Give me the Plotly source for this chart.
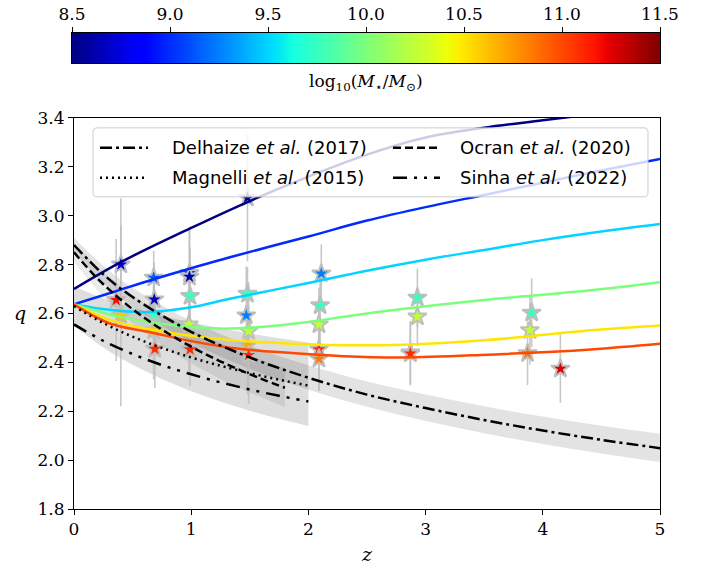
import numpy as np
import plotly.graph_objects as go

# ---------------------------------------------------------------------------
# Stacked-sample measurements: redshift, q, error on q, log stellar mass
# ---------------------------------------------------------------------------
STAR_Z = [0.40, 0.36, 0.40, 0.68, 0.685, 0.68, 0.68, 0.69,
          0.985, 0.985, 0.99, 0.98, 0.99,
          1.48, 1.48, 1.47, 1.49, 1.48, 1.49,
          2.11, 2.10, 2.09, 2.09, 2.09,
          2.93, 2.93, 2.87, 2.87,
          3.905, 3.89, 3.87, 4.15]
STAR_Q = [2.80, 2.655, 2.59, 2.746, 2.657, 2.596, 2.53, 2.455,
          2.765, 2.75, 2.671, 2.555, 2.453,
          3.073, 2.68, 2.592, 2.528, 2.47, 2.43,
          2.763, 2.633, 2.555, 2.453, 2.415,
          2.664, 2.587, 2.44, 2.436,
          2.603, 2.531, 2.437, 2.374]
STAR_ERR = [0.27, 0.25, 0.37, 0.11, 0.15, 0.15, 0.20, 0.16,
            0.19, 0.20, 0.20, 0.20, 0.15,
            0.26, 0.11, 0.20, 0.20, 0.20, 0.20,
            0.12, 0.15, 0.15, 0.17, 0.13,
            0.12, 0.12, 0.13, 0.13,
            0.14, 0.14, 0.13, 0.14]
STAR_MASS = [8.7, 11.2, 10.6, 9.15, 8.65, 9.75, 10.6, 11.1,
             9.1, 8.6, 9.75, 10.25, 11.1,
             8.6, 9.75, 9.25, 10.25, 10.7, 11.1,
             9.25, 9.75, 10.25, 11.1, 10.85,
             9.75, 10.25, 10.85, 11.1,
             9.75, 10.25, 10.85, 11.25]

# ---------------------------------------------------------------------------
# Model q(z) tracks at fixed stellar mass
# ---------------------------------------------------------------------------
TRACK_MASS = [8.5, 9.0, 9.5, 10.0, 10.5, 11.0]
TRACK_Z = [
    [0, 0.4, 1.0, 1.5, 2.0, 2.5, 3.0, 3.5, 4.0, 4.5, 5.0],
    [0, 0.35, 0.68, 1.0, 1.33, 2.0, 2.5, 3.0, 3.5, 4.0, 4.5, 5.0],
    [0, 0.3, 0.6, 1.0, 1.33, 2.0, 2.5, 3.0, 3.5, 4.0, 4.5, 5.0],
    [0, 0.2, 0.4, 0.8, 1.25, 1.6, 2.0, 2.35, 2.78, 3.5, 4.41, 5.0],
    [0, 0.3, 0.7, 1.2, 1.7, 2.3, 2.8, 3.5, 4.41, 5.0],
    [0, 0.3, 0.65, 1.0, 1.33, 1.8, 2.3, 2.8, 3.47, 4.41, 5.0],
]
TRACK_Q = [
    [2.70, 2.81, 2.95, 3.06, 3.16, 3.25, 3.32, 3.36, 3.39, 3.42, 3.45],
    [2.637, 2.69, 2.74, 2.785, 2.83, 2.915, 2.98, 3.035, 3.085, 3.135, 3.185, 3.232],
    [2.637, 2.615, 2.605, 2.625, 2.66, 2.725, 2.775, 2.82, 2.86, 2.90, 2.935, 2.966],
    [2.637, 2.61, 2.585, 2.555, 2.538, 2.545, 2.565, 2.59, 2.617, 2.655, 2.695, 2.728],
    [2.637, 2.575, 2.53, 2.497, 2.48, 2.47, 2.472, 2.49, 2.531, 2.551],
    [2.637, 2.56, 2.523, 2.487, 2.46, 2.44, 2.425, 2.42, 2.43, 2.453, 2.476],
]

# ---------------------------------------------------------------------------
# Literature relations (central value and shaded range)
# ---------------------------------------------------------------------------
DELHAIZE_Z = [0, 0.25, 0.5, 1.0, 1.5, 2.0, 2.5, 3.0, 3.5, 4.0, 4.5, 5.0]
DELHAIZE_Q = [2.88, 2.760, 2.667, 2.525, 2.420, 2.337, 2.268, 2.213, 2.164, 2.121, 2.083, 2.049]
DELHAIZE_HI = [2.91, 2.795, 2.705, 2.569, 2.468, 2.388, 2.322, 2.268, 2.220, 2.178, 2.141, 2.108]
DELHAIZE_LO = [2.85, 2.726, 2.628, 2.481, 2.373, 2.288, 2.218, 2.160, 2.110, 2.066, 2.027, 1.992]

MAGNELLI_Z = [0, 0.25, 0.5, 0.75, 1.0, 1.25, 1.5, 1.75, 2.0]
MAGNELLI_Q = [2.63, 2.561, 2.505, 2.459, 2.420, 2.386, 2.356, 2.329, 2.305]
MAGNELLI_HI = [2.71, 2.662, 2.624, 2.591, 2.564, 2.540, 2.518, 2.499, 2.482]
MAGNELLI_LO = [2.55, 2.461, 2.390, 2.332, 2.282, 2.240, 2.202, 2.169, 2.139]

OCRAN_Z = [0, 0.2, 0.4, 0.6, 0.8, 1.0, 1.2, 1.4, 1.6, 1.8]
OCRAN_Q = [2.85, 2.743, 2.656, 2.582, 2.519, 2.464, 2.415, 2.372, 2.332, 2.296]
OCRAN_HI = [2.89, 2.792, 2.711, 2.643, 2.585, 2.533, 2.488, 2.447, 2.410, 2.376]
OCRAN_LO = [2.81, 2.695, 2.601, 2.522, 2.455, 2.396, 2.344, 2.297, 2.256, 2.217]

SINHA_Z = [0, 0.25, 0.5, 0.75, 1.0, 1.25, 1.5, 1.75, 2.0]
SINHA_Q = [2.555, 2.488, 2.434, 2.389, 2.351, 2.318, 2.289, 2.263, 2.240]

X_TICKS = [0, 1, 2, 3, 4, 5]
Y_TICKS = [1.8, 2.0, 2.2, 2.4, 2.6, 2.8, 3.0, 3.2, 3.4]
CB_TICKS = [8.5, 9.0, 9.5, 10.0, 10.5, 11.0, 11.5]
MASS_MIN, MASS_MAX = 8.5, 11.5

# ---------------------------------------------------------------------------
# matplotlib-style "jet" colour map
# ---------------------------------------------------------------------------
JET_R = [(0.0, 0.0), (0.35, 0.0), (0.66, 1.0), (0.89, 1.0), (1.0, 0.5)]
JET_G = [(0.0, 0.0), (0.125, 0.0), (0.375, 1.0), (0.64, 1.0), (0.91, 0.0), (1.0, 0.0)]
JET_B = [(0.0, 0.5), (0.11, 1.0), (0.34, 1.0), (0.65, 0.0), (1.0, 0.0)]


def _chan(pts, f):
    xs, ys = zip(*pts)
    return float(np.interp(f, xs, ys))


def jet(f):
    return "rgb(%d,%d,%d)" % tuple(int(round(255 * _chan(c, f))) for c in (JET_R, JET_G, JET_B))


JET_STOPS = sorted({p[0] for c in (JET_R, JET_G, JET_B) for p in c})
JET = [[s, jet(s)] for s in JET_STOPS]


def mass_colour(m):
    return jet((m - MASS_MIN) / (MASS_MAX - MASS_MIN))


SERIF = "DejaVu Serif"
SANS = "DejaVu Sans"

# page geometry (pixels)
W, H = 715, 573
M_L, M_R, M_T, M_B = 72, 55, 33, 63.5
PLOT_LEFT, PLOT_TOP = 74, 118
BAR_BOTTOM = 63
paper_w = W - M_L - M_R
paper_h = H - M_T - M_B
plot_x_domain = [(PLOT_LEFT - M_L) / paper_w, 1.0]
plot_y_domain = [0.0, (H - M_B - PLOT_TOP) / paper_h]
bar_y_domain = [(H - M_B - BAR_BOTTOM) / paper_h, 1.0]

fig = go.Figure()


def band(z, lo, hi, colour):
    fig.add_trace(go.Scatter(x=z, y=lo, mode="lines", line=dict(width=0, shape="spline"),
                             showlegend=False, hoverinfo="skip"))
    fig.add_trace(go.Scatter(x=z, y=hi, mode="lines", line=dict(width=0, shape="spline"),
                             fill="tonexty", fillcolor=colour, showlegend=False, hoverinfo="skip"))


band(DELHAIZE_Z, DELHAIZE_LO, DELHAIZE_HI, "rgba(0,0,0,0.11)")
band(MAGNELLI_Z, MAGNELLI_LO, MAGNELLI_HI, "rgba(0,0,0,0.13)")
band(OCRAN_Z, OCRAN_LO, OCRAN_HI, "rgba(0,0,0,0.08)")

# measured points with error bars, coloured by stellar mass
fig.add_trace(go.Scatter(
    x=STAR_Z, y=STAR_Q, mode="markers", showlegend=False,
    error_y=dict(type="data", array=STAR_ERR, visible=True, color="rgba(190,190,190,0.85)",
                 thickness=1.6, width=0),
    marker=dict(symbol="star", size=14, color=STAR_MASS, colorscale=JET,
                cmin=MASS_MIN, cmax=MASS_MAX, showscale=False,
                line=dict(color="rgb(190,190,190)", width=2))))

# model tracks
for m, zs, qs in zip(TRACK_MASS, TRACK_Z, TRACK_Q):
    fig.add_trace(go.Scatter(x=zs, y=qs, mode="lines", showlegend=False,
                             line=dict(color=mass_colour(m), width=2.5, shape="spline")))

DASH_DELHAIZE = "12px,4px,3px,4px"
DASH_MAGNELLI = "2px,4px"
DASH_OCRAN = "8px,4px"
DASH_SINHA = "14px,7px,3px,7px,3px,7px"

for zs, qs, dash in [(DELHAIZE_Z, DELHAIZE_Q, DASH_DELHAIZE),
                     (MAGNELLI_Z, MAGNELLI_Q, DASH_MAGNELLI),
                     (OCRAN_Z, OCRAN_Q, DASH_OCRAN),
                     (SINHA_Z, SINHA_Q, DASH_SINHA)]:
    fig.add_trace(go.Scatter(x=zs, y=qs, mode="lines", showlegend=False,
                             line=dict(color="black", width=2.5, dash=dash, shape="spline")))

# ---------------------------------------------------------------------------
# Horizontal colour bar: a one-row heatmap spanning the mass range
# ---------------------------------------------------------------------------
n_cells = 300
cb_edges = np.linspace(MASS_MIN, MASS_MAX, n_cells + 1)
cb_centres = 0.5 * (cb_edges[1:] + cb_edges[:-1])
fig.add_trace(go.Heatmap(x=cb_centres, y=[0], z=[cb_centres], colorscale=JET,
                         zmin=MASS_MIN, zmax=MASS_MAX, showscale=False, hoverinfo="skip",
                         xaxis="x2", yaxis="y2"))

# ---------------------------------------------------------------------------
# Legend box drawn relative to the plotting area
# ---------------------------------------------------------------------------
x0, x1, y0, y1 = 0.0324, 0.9795, 0.7982, 0.9745
rx, ry = 0.007, 0.010
path = (f"M{x0+rx},{y0} L{x1-rx},{y0} Q{x1},{y0} {x1},{y0+ry} L{x1},{y1-ry} "
        f"Q{x1},{y1} {x1-rx},{y1} L{x0+rx},{y1} Q{x0},{y1} {x0},{y1-ry} "
        f"L{x0},{y0+ry} Q{x0},{y0} {x0+rx},{y0} Z")
fig.add_shape(type="path", path=path, xref="x domain", yref="y domain", layer="above",
              fillcolor="rgba(255,255,255,0.8)", line=dict(color="rgb(204,204,204)", width=1))

LEGEND_ROWS = [
    ("Delhaize <i>et al.</i> (2017)", DASH_DELHAIZE, 0.0444, 0.1263, 0.1638, 0.9234),
    ("Magnelli <i>et al.</i> (2015)", DASH_MAGNELLI, 0.0444, 0.1263, 0.1638, 0.8467),
    ("Ocran <i>et al.</i> (2020)", DASH_OCRAN, 0.5444, 0.6246, 0.6553, 0.9234),
    ("Sinha <i>et al.</i> (2022)", DASH_SINHA, 0.5444, 0.6246, 0.6553, 0.8467),
]
for label, dash, lx0, lx1, tx, ty in LEGEND_ROWS:
    fig.add_shape(type="line", xref="x domain", yref="y domain", x0=lx0, x1=lx1, y0=ty, y1=ty,
                  layer="above", line=dict(color="black", width=2.5, dash=dash))
    fig.add_annotation(text=label, xref="x domain", yref="y domain", x=tx, y=ty,
                       xanchor="left", yanchor="middle", showarrow=False,
                       font=dict(family=SANS, size=18, color="black"))

# axis titles
fig.add_annotation(text="<i>q</i>", xref="x domain", yref="y domain", x=-0.092, y=0.502,
                   showarrow=False, xanchor="center", yanchor="middle",
                   font=dict(family=SERIF, size=19, color="black"))
fig.add_annotation(text="<i>z</i>", xref="x domain", yref="y domain", x=0.5, y=-0.116,
                   showarrow=False, xanchor="center", yanchor="middle",
                   font=dict(family=SERIF, size=19, color="black"))
fig.add_annotation(text="log<sub>10</sub>(<i>M</i><sub>⋆</sub>/<i>M</i><sub>⊙</sub>)",
                   xref="x2 domain", yref="paper", x=0.5, y=(H - M_B - 83) / paper_h,
                   showarrow=False, xanchor="center", yanchor="middle",
                   font=dict(family=SERIF, size=17, color="black"))

axis_common = dict(showgrid=False, zeroline=False, showline=True, linecolor="black",
                   linewidth=1, mirror=True, ticks="outside", ticklen=5, tickwidth=1,
                   automargin=False,
                   tickcolor="black", tickfont=dict(family=SERIF, size=17, color="black"))

fig.update_layout(
    template="none",
    width=W, height=H,
    margin=dict(l=M_L, r=M_R, t=M_T, b=M_B, autoexpand=False),
    plot_bgcolor="white", paper_bgcolor="white",
    showlegend=False,
    xaxis=dict(domain=plot_x_domain, range=[0, 5], tickvals=X_TICKS,
               ticktext=[str(t) for t in X_TICKS], anchor="y", **axis_common),
    yaxis=dict(domain=plot_y_domain, range=[1.8, 3.4], tickvals=Y_TICKS,
               ticktext=["%.1f" % t for t in Y_TICKS], anchor="x", **axis_common),
    xaxis2=dict(domain=[0.0, 1.0], range=[MASS_MIN, MASS_MAX], anchor="y2", side="top",
                tickvals=CB_TICKS, ticktext=["%.1f" % t for t in CB_TICKS], **axis_common),
    yaxis2=dict(domain=bar_y_domain, range=[-0.5, 0.5], anchor="x2", showgrid=False,
                zeroline=False, showline=True, linecolor="black", linewidth=1, mirror=True,
                ticks="", showticklabels=False, automargin=False),
)

fig.write_html("out.html")
